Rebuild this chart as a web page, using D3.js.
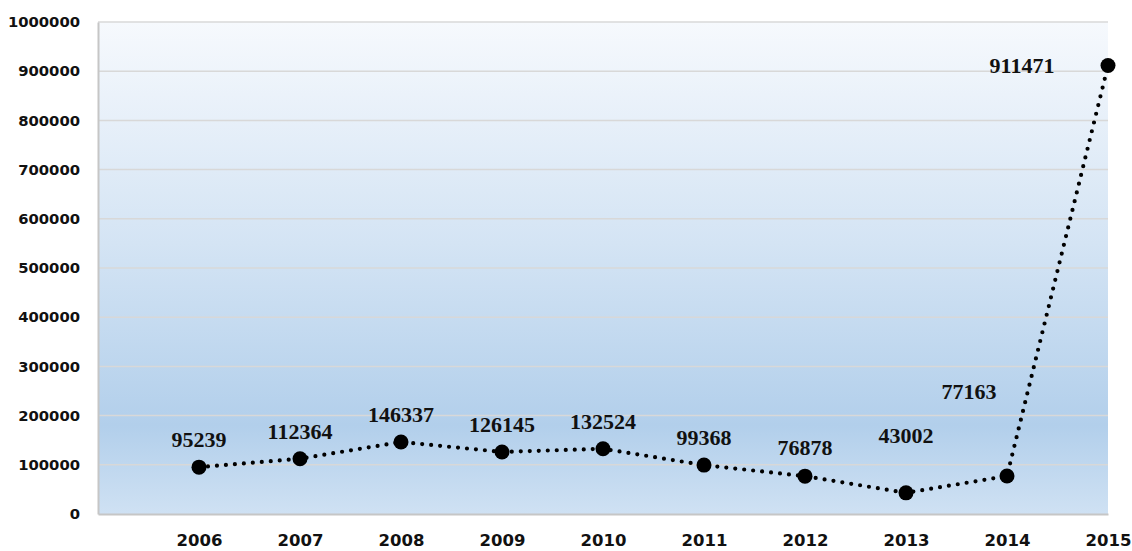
<!DOCTYPE html>
<html>
<head>
<meta charset="utf-8">
<script src="https://cdn.jsdelivr.net/npm/d3@7/dist/d3.min.js"></script>
<style>
  html, body { margin: 0; padding: 0; background: #ffffff; }
  svg { display: block; }
</style>
</head>
<body>
<svg id="chart" width="1132" height="551"></svg>
<script>
// ---- data ----
const years = [2006, 2007, 2008, 2009, 2010, 2011, 2012, 2013, 2014, 2015];
const values = [95239, 112364, 146337, 126145, 132524, 99368, 76878, 43002, 77163, 911471];
const yTicks = [0, 100000, 200000, 300000, 400000, 500000, 600000, 700000, 800000, 900000, 1000000];

// ---- layout (label nudges, in px, as drawn in the reference) ----
const labelDx = [0, 0, 0, 0, 0, 0, 0, 0, -38, -86];
const labelDy = [-20, -20, -20, -20, -20, -20, -21, -50, -77, 7];

const W = 1132, H = 551;
const m = { left: 98, right: 24, top: 22, bottom: 37 };
const svg = d3.select("#chart");

const x = d3.scaleLinear().domain([2005, 2015]).range([m.left, W - m.right]);
const y = d3.scaleLinear().domain([0, 1000000]).range([H - m.bottom, m.top]);

const defs = svg.append("defs");
const grad = defs.append("linearGradient").attr("id", "bg").attr("x1", 0).attr("y1", 0).attr("x2", 0).attr("y2", 1);
grad.append("stop").attr("offset", "0%").attr("stop-color", "#f6f9fd");
grad.append("stop").attr("offset", "45%").attr("stop-color", "#d4e4f4");
grad.append("stop").attr("offset", "82%").attr("stop-color", "#b2cfeb");
grad.append("stop").attr("offset", "100%").attr("stop-color", "#cfe1f3");

svg.append("rect")
  .attr("x", x.range()[0]).attr("y", y.range()[1])
  .attr("width", x.range()[1] - x.range()[0])
  .attr("height", y.range()[0] - y.range()[1])
  .attr("fill", "url(#bg)");

// gridlines
svg.append("g").selectAll("line").data(yTicks.slice(1)).join("line")
  .attr("x1", x.range()[0]).attr("x2", x.range()[1])
  .attr("y1", d => y(d)).attr("y2", d => y(d))
  .attr("stroke", "#d8d8d8").attr("stroke-width", 1.5);

// y axis
const yAxis = svg.append("g").attr("transform", `translate(${m.left},0)`)
  .call(d3.axisLeft(y).tickValues(yTicks).tickSize(0).tickPadding(18).tickFormat(d3.format("d")));
yAxis.select(".domain").attr("stroke", "#c6c6c6").attr("stroke-width", 2);
yAxis.selectAll("text")
  .attr("font-family", "DejaVu Sans, Verdana, sans-serif")
  .attr("font-weight", "bold").attr("font-size", "14.8px").attr("fill", "#111");

// x axis
const xAxis = svg.append("g").attr("transform", `translate(0,${H - m.bottom})`)
  .call(d3.axisBottom(x).tickValues(years).tickSize(0).tickPadding(20).tickFormat(d3.format("d")));
xAxis.select(".domain").attr("stroke", "#c6c6c6").attr("stroke-width", 2);
xAxis.selectAll("text")
  .attr("font-family", "DejaVu Sans, Verdana, sans-serif")
  .attr("font-weight", "bold").attr("font-size", "16.5px").attr("fill", "#111");

// line
const line = d3.line().x((d, i) => x(years[i])).y(d => y(d));
svg.append("path").datum(values)
  .attr("d", line)
  .attr("fill", "none").attr("stroke", "#000")
  .attr("stroke-width", 4.2).attr("stroke-linecap", "round")
  .attr("stroke-dasharray", "0 9");

// markers
svg.append("g").selectAll("circle").data(values).join("circle")
  .attr("cx", (d, i) => x(years[i])).attr("cy", d => y(d))
  .attr("r", 7.5).attr("fill", "#000");

// labels
svg.append("g").selectAll("text").data(values).join("text")
  .attr("x", (d, i) => x(years[i]) + labelDx[i])
  .attr("y", (d, i) => y(d) + labelDy[i])
  .attr("text-anchor", "middle")
  .attr("font-family", "Liberation Serif, Times New Roman, serif")
  .attr("font-weight", "bold").attr("font-size", "22px").attr("fill", "#111")
  .text(d => d);
</script>
</body>
</html>
